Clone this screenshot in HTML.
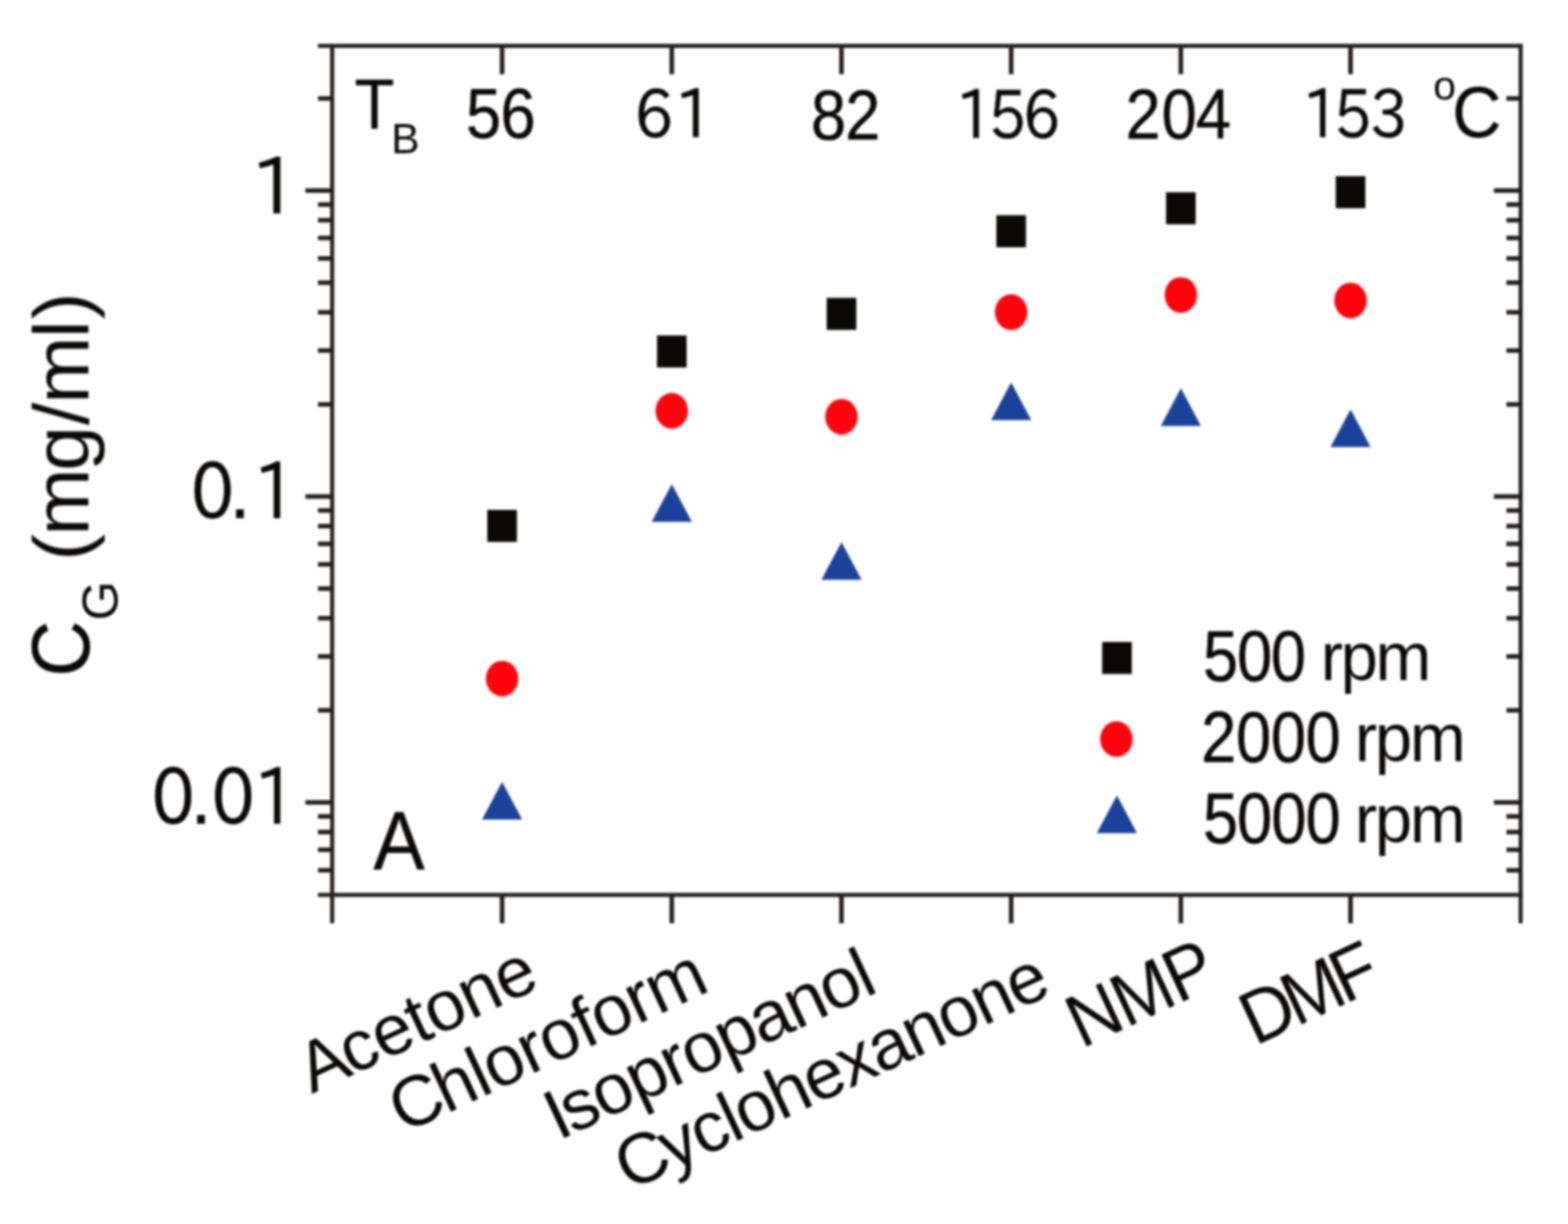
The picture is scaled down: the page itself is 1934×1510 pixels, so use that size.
<!DOCTYPE html>
<html lang="en"><head><meta charset="utf-8"><title>Graphene concentration by solvent and centrifugation speed</title>
<style>
html,body{margin:0;padding:0;background:#fff;}
body{width:1934px;height:1510px;overflow:hidden;}
svg{display:block;}
text{font-family:"Liberation Sans",Arial,Helvetica,sans-serif;fill:#0c0a08;white-space:pre;}
text.n{font-family:"IPAPGothic","Liberation Sans",Arial,sans-serif;}
</style></head><body>
<svg width="1934" height="1510" viewBox="0 0 1934 1510">
<defs><filter id="soft" x="-2%" y="-2%" width="104%" height="104%" color-interpolation-filters="sRGB"><feGaussianBlur stdDeviation="1.35"/></filter></defs>
<rect width="1934" height="1510" fill="#fff"/>
<g filter="url(#soft)">
<g id="axes">
<rect x="392.20" y="54.10" width="1485.90" height="5.00" fill="#241f1c"/>
<rect x="392.20" y="1101.50" width="1485.90" height="5.00" fill="#241f1c"/>
<rect x="407.20" y="54.10" width="5.00" height="1084.90" fill="#241f1c"/>
<rect x="1873.10" y="54.10" width="5.00" height="1084.90" fill="#241f1c"/>
<rect x="616.50" y="1104.00" width="5.60" height="35.00" fill="#241f1c"/>
<rect x="616.50" y="56.60" width="5.60" height="35.00" fill="#241f1c"/>
<rect x="825.80" y="1104.00" width="5.60" height="35.00" fill="#241f1c"/>
<rect x="825.80" y="56.60" width="5.60" height="35.00" fill="#241f1c"/>
<rect x="1035.10" y="1104.00" width="5.60" height="35.00" fill="#241f1c"/>
<rect x="1035.10" y="56.60" width="5.60" height="35.00" fill="#241f1c"/>
<rect x="1244.40" y="1104.00" width="5.60" height="35.00" fill="#241f1c"/>
<rect x="1244.40" y="56.60" width="5.60" height="35.00" fill="#241f1c"/>
<rect x="1453.70" y="1104.00" width="5.60" height="35.00" fill="#241f1c"/>
<rect x="1453.70" y="56.60" width="5.60" height="35.00" fill="#241f1c"/>
<rect x="1663.00" y="1104.00" width="5.60" height="35.00" fill="#241f1c"/>
<rect x="1663.00" y="56.60" width="5.60" height="35.00" fill="#241f1c"/>
<rect x="392.20" y="1070.83" width="17.50" height="5.60" fill="#241f1c"/>
<rect x="1858.10" y="1070.83" width="17.50" height="5.60" fill="#241f1c"/>
<rect x="392.20" y="1045.56" width="17.50" height="5.60" fill="#241f1c"/>
<rect x="1858.10" y="1045.56" width="17.50" height="5.60" fill="#241f1c"/>
<rect x="392.20" y="1023.67" width="17.50" height="5.60" fill="#241f1c"/>
<rect x="1858.10" y="1023.67" width="17.50" height="5.60" fill="#241f1c"/>
<rect x="392.20" y="1004.37" width="17.50" height="5.60" fill="#241f1c"/>
<rect x="1858.10" y="1004.37" width="17.50" height="5.60" fill="#241f1c"/>
<rect x="376.70" y="987.10" width="33.00" height="5.60" fill="#241f1c"/>
<rect x="1842.60" y="987.10" width="33.00" height="5.60" fill="#241f1c"/>
<rect x="392.20" y="873.49" width="17.50" height="5.60" fill="#241f1c"/>
<rect x="1858.10" y="873.49" width="17.50" height="5.60" fill="#241f1c"/>
<rect x="392.20" y="807.03" width="17.50" height="5.60" fill="#241f1c"/>
<rect x="1858.10" y="807.03" width="17.50" height="5.60" fill="#241f1c"/>
<rect x="392.20" y="759.88" width="17.50" height="5.60" fill="#241f1c"/>
<rect x="1858.10" y="759.88" width="17.50" height="5.60" fill="#241f1c"/>
<rect x="392.20" y="723.31" width="17.50" height="5.60" fill="#241f1c"/>
<rect x="1858.10" y="723.31" width="17.50" height="5.60" fill="#241f1c"/>
<rect x="392.20" y="693.43" width="17.50" height="5.60" fill="#241f1c"/>
<rect x="1858.10" y="693.43" width="17.50" height="5.60" fill="#241f1c"/>
<rect x="392.20" y="668.16" width="17.50" height="5.60" fill="#241f1c"/>
<rect x="1858.10" y="668.16" width="17.50" height="5.60" fill="#241f1c"/>
<rect x="392.20" y="646.27" width="17.50" height="5.60" fill="#241f1c"/>
<rect x="1858.10" y="646.27" width="17.50" height="5.60" fill="#241f1c"/>
<rect x="392.20" y="626.97" width="17.50" height="5.60" fill="#241f1c"/>
<rect x="1858.10" y="626.97" width="17.50" height="5.60" fill="#241f1c"/>
<rect x="376.70" y="609.70" width="33.00" height="5.60" fill="#241f1c"/>
<rect x="1842.60" y="609.70" width="33.00" height="5.60" fill="#241f1c"/>
<rect x="392.20" y="496.09" width="17.50" height="5.60" fill="#241f1c"/>
<rect x="1858.10" y="496.09" width="17.50" height="5.60" fill="#241f1c"/>
<rect x="392.20" y="429.63" width="17.50" height="5.60" fill="#241f1c"/>
<rect x="1858.10" y="429.63" width="17.50" height="5.60" fill="#241f1c"/>
<rect x="392.20" y="382.48" width="17.50" height="5.60" fill="#241f1c"/>
<rect x="1858.10" y="382.48" width="17.50" height="5.60" fill="#241f1c"/>
<rect x="392.20" y="345.91" width="17.50" height="5.60" fill="#241f1c"/>
<rect x="1858.10" y="345.91" width="17.50" height="5.60" fill="#241f1c"/>
<rect x="392.20" y="316.03" width="17.50" height="5.60" fill="#241f1c"/>
<rect x="1858.10" y="316.03" width="17.50" height="5.60" fill="#241f1c"/>
<rect x="392.20" y="290.76" width="17.50" height="5.60" fill="#241f1c"/>
<rect x="1858.10" y="290.76" width="17.50" height="5.60" fill="#241f1c"/>
<rect x="392.20" y="268.87" width="17.50" height="5.60" fill="#241f1c"/>
<rect x="1858.10" y="268.87" width="17.50" height="5.60" fill="#241f1c"/>
<rect x="392.20" y="249.57" width="17.50" height="5.60" fill="#241f1c"/>
<rect x="1858.10" y="249.57" width="17.50" height="5.60" fill="#241f1c"/>
<rect x="376.70" y="232.30" width="33.00" height="5.60" fill="#241f1c"/>
<rect x="1842.60" y="232.30" width="33.00" height="5.60" fill="#241f1c"/>
<rect x="392.20" y="118.69" width="17.50" height="5.60" fill="#241f1c"/>
<rect x="1858.10" y="118.69" width="17.50" height="5.60" fill="#241f1c"/>
</g>
<g id="series">
<rect x="601.05" y="629.05" width="36.50" height="39.50" fill="#0a0905"/>
<rect x="810.35" y="413.85" width="36.50" height="39.50" fill="#0a0905"/>
<rect x="1019.65" y="367.45" width="36.50" height="39.50" fill="#0a0905"/>
<rect x="1228.95" y="265.55" width="36.50" height="39.50" fill="#0a0905"/>
<rect x="1438.25" y="237.15" width="36.50" height="39.50" fill="#0a0905"/>
<rect x="1647.55" y="217.35" width="36.50" height="39.50" fill="#0a0905"/>
<ellipse cx="619.30" cy="837.20" rx="20.0" ry="22.0" fill="#ff040c"/>
<ellipse cx="828.60" cy="506.80" rx="20.0" ry="22.0" fill="#ff040c"/>
<ellipse cx="1037.90" cy="514.20" rx="20.0" ry="22.0" fill="#ff040c"/>
<ellipse cx="1247.20" cy="385.10" rx="20.0" ry="22.0" fill="#ff040c"/>
<ellipse cx="1456.50" cy="363.90" rx="20.0" ry="22.0" fill="#ff040c"/>
<ellipse cx="1665.80" cy="370.70" rx="20.0" ry="22.0" fill="#ff040c"/>
<polygon points="619.30,964.55 644.05,1011.05 594.55,1011.05" fill="#1b429b"/>
<polygon points="828.60,597.35 853.35,643.85 803.85,643.85" fill="#1b429b"/>
<polygon points="1037.90,668.65 1062.65,715.15 1013.15,715.15" fill="#1b429b"/>
<polygon points="1247.20,471.75 1271.95,518.25 1222.45,518.25" fill="#1b429b"/>
<polygon points="1456.50,478.95 1481.25,525.45 1431.75,525.45" fill="#1b429b"/>
<polygon points="1665.80,504.95 1690.55,551.45 1641.05,551.45" fill="#1b429b"/>
</g><g id="legend-symbols">
<rect x="1359.45" y="791.95" width="36.50" height="39.50" fill="#0a0905"/>
<ellipse cx="1377.00" cy="911.80" rx="20.0" ry="22.0" fill="#ff040c"/>
<polygon points="1377.60,981.15 1402.35,1027.65 1352.85,1027.65" fill="#1b429b"/>
</g>
<g id="labels" aria-label="axis, tick and legend labels">
<text transform="translate(0,263.55) scale(1.0000,1)" font-size="94.56" class="n" stroke="#0c0a08" stroke-width="0.5" x="309.37">1</text>
<text transform="translate(0,639.78) scale(0.8960,1)" font-size="94.56" class="n" stroke="#0c0a08" stroke-width="0.5" x="262.94 317.70 349.02">0.1</text>
<text transform="translate(0,1016.68) scale(0.8960,1)" font-size="94.56" class="n" stroke="#0c0a08" stroke-width="0.5" x="208.81 264.36 291.40 349.47">0.01</text>
<text transform="translate(437.27,157.67) scale(0.9300,1)" font-size="86.84" stroke="#0c0a08" stroke-width="0.4" letter-spacing="0.000">T</text>
<text transform="translate(482.57,189.20) scale(1.0000,1)" font-size="52.52" letter-spacing="0.000">B</text>
<text transform="translate(0,170.33) scale(0.9000,1)" font-size="86.63" stroke="#0c0a08" stroke-width="0.6" x="638.75 685.71">56</text>
<text transform="translate(0,169.82) scale(0.9400,1)" font-size="82.05" class="n" stroke="#0c0a08" stroke-width="0.5" x="832.02 885.23">61</text>
<text transform="translate(0,172.43) scale(0.9000,1)" font-size="86.63" stroke="#0c0a08" stroke-width="0.6" x="1111.46 1158.42">82</text>
<text transform="translate(0,171.02) scale(0.9000,1)" font-size="82.05" class="n" stroke="#0c0a08" stroke-width="0.5" x="1309.81 1354.66 1401.39">156</text>
<text transform="translate(0,170.73) scale(0.9000,1)" font-size="86.63" stroke="#0c0a08" stroke-width="0.6" x="1542.42 1592.06 1638.90">204</text>
<text transform="translate(0,170.49) scale(0.9000,1)" font-size="82.05" class="n" stroke="#0c0a08" stroke-width="0.5" x="1784.59 1827.99 1877.87">153</text>
<text transform="translate(1767.87,122.90) scale(1.0000,1)" font-size="50.47" letter-spacing="0.000">o</text>
<text transform="translate(1791.27,168.53) scale(0.9500,1)" font-size="88.40" stroke="#0c0a08" stroke-width="0.4" letter-spacing="0.000">C</text>
<text transform="translate(460.43,1072.97) scale(0.9300,1)" font-size="102.23" stroke="#0c0a08" stroke-width="0.4" letter-spacing="0.000">A</text>
<text transform="translate(1483.67,840.40) scale(0.8800,1)" font-size="88.71" stroke="#0c0a08" stroke-width="0.6" letter-spacing="-1.640">500</text>
<text transform="translate(1629.03,839.17) scale(1.0000,1)" font-size="82.74" letter-spacing="-3.100">rpm</text>
<text transform="translate(1481.57,940.40) scale(0.8800,1)" font-size="88.71" stroke="#0c0a08" stroke-width="0.6" letter-spacing="-0.575">2000</text>
<text transform="translate(1670.90,939.17) scale(1.0000,1)" font-size="82.74" letter-spacing="-2.700">rpm</text>
<text transform="translate(1483.63,1040.40) scale(0.8800,1)" font-size="88.71" stroke="#0c0a08" stroke-width="0.6" letter-spacing="-1.370">5000</text>
<text transform="translate(1670.90,1039.17) scale(1.0000,1)" font-size="82.74" letter-spacing="-2.700">rpm</text>
<text transform="translate(109.50,834.93) rotate(-90) scale(0.9400,1)" font-size="102.44" stroke="#0c0a08" stroke-width="0.4" letter-spacing="0.000">C</text>
<text transform="translate(145.47,765.43) rotate(-90) scale(1.0000,1)" font-size="62.71" letter-spacing="0.000">G</text>
<text transform="translate(109.07,0) rotate(-90) scale(1.0300,1)" font-size="97.02" x="-671.94 -641.78 -564.07 -509.13 -483.63 -405.18 -382.51">(mg/ml)</text>
<text transform="translate(384.60,1349.80) rotate(-25) scale(1.0000,1)" font-size="87.66" letter-spacing="-0.921" dx="0 -3.00">Acetone</text>
<text transform="translate(497.23,1398.87) rotate(-25) scale(1.0000,1)" font-size="87.66" letter-spacing="-1.176" dx="0 -3.00">Chloroform</text>
<text transform="translate(688.70,1407.40) rotate(-25) scale(1.0000,1)" font-size="87.66" letter-spacing="-1.750" dx="0 -3.00">Isopropanol</text>
<text transform="translate(775.63,1469.83) rotate(-25) scale(1.0000,1)" font-size="87.66" letter-spacing="-1.928" dx="0 -3.00">Cyclohexanone</text>
<text transform="translate(1333.90,1294.03) rotate(-25) scale(0.9500,1)" font-size="92.56" letter-spacing="-2.852">NMP</text>
<text transform="translate(1547.90,1290.53) rotate(-25) scale(0.9500,1)" font-size="92.56" letter-spacing="-7.575">DMF</text>
</g>
</g>
</svg>
</body></html>
